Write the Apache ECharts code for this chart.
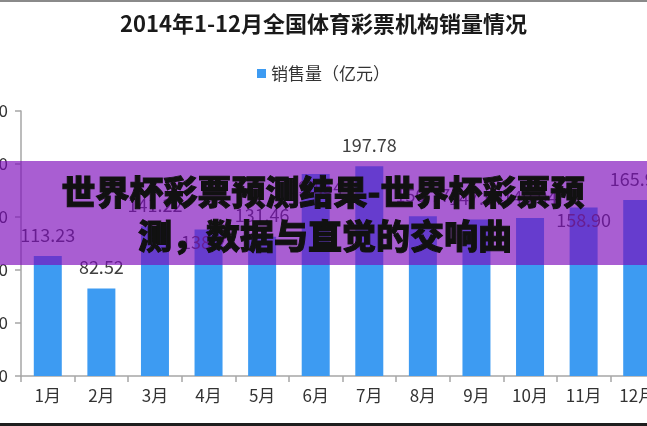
<!DOCTYPE html>
<html>
<head>
<meta charset="utf-8">
<script src="https://cdn.jsdelivr.net/npm/echarts@6/dist/echarts.min.js"></script>
<style>
html,body{margin:0;padding:0;background:#fff;}
#chart{width:647px;height:426px;}
</style>
</head>
<body>
<div id="chart"></div>
<script>
const titleText = '2014年1-12月全国体育彩票机构销量情况';
const seriesName = '销售量（亿元）';
const categories = ['1月','2月','3月','4月','5月','6月','7月','8月','9月','10月','11月','12月'];
const sales = [113.23, 82.52, 141.22, 138.27, 131.46, 190.54, 197.78, 150.77, 147.54, 149.04, 158.90, 165.93];
const insideLabelMonths = ['4月','6月','11月'];
const yMin = 0, yMax = 250, yInterval = 50;
const bannerLines = ['世界杯彩票预测结果-世界杯彩票预', '测，数据与直觉的交响曲'];

const FONT = '"Noto Sans CJK SC", "Noto Sans", sans-serif';
const chart = echarts.init(document.getElementById('chart'), null, {renderer:'canvas'});

const barData = sales.map((v, i) => {
  const item = {value: v};
  if (insideLabelMonths.indexOf(categories[i]) >= 0) {
    item.label = {position: 'insideTop', distance: 4};
  }
  return item;
});

chart.setOption({
  animation: false,
  backgroundColor: '#ffffff',
  title: {
    text: titleText,
    left: 'center',
    top: 8,
    textStyle: {fontFamily: FONT, fontSize: 22, fontWeight: 'bold', color: '#1a1a1a'}
  },
  legend: {
    data: [seriesName],
    top: 60,
    left: 'center',
    itemWidth: 9,
    itemHeight: 9,
    itemGap: 6,
    icon: 'rect',
    textStyle: {fontFamily: FONT, fontSize: 17, color: '#333'}
  },
  grid: {left: 21, top: 111, width: 643, height: 265, containLabel: false, outerBoundsMode: 'none'},
  xAxis: {
    type: 'category',
    data: categories,
    boundaryGap: true,
    axisLine: {lineStyle: {color: '#a6a6a6', width: 1.5}},
    axisTick: {show: true, length: 6, alignWithLabel: false, lineStyle: {color: '#a6a6a6', width: 1.5}},
    axisLabel: {fontFamily: FONT, fontSize: 17, color: '#333', margin: 11}
  },
  yAxis: {
    type: 'value',
    min: yMin,
    max: yMax,
    interval: yInterval,
    splitLine: {show: false},
    axisLine: {show: true, lineStyle: {color: '#a6a6a6', width: 1.5}},
    axisTick: {show: true, length: 6, lineStyle: {color: '#a6a6a6', width: 1.5}},
    axisLabel: {fontFamily: FONT, fontSize: 17, color: '#333', margin: 13}
  },
  series: [{
    name: seriesName,
    type: 'bar',
    data: barData,
    barWidth: 28,
    itemStyle: {color: '#3d9bf2'},
    label: {
      show: true,
      position: 'top',
      distance: 12,
      fontFamily: FONT,
      fontSize: 18,
      color: '#404040',
      formatter: p => Number(p.value).toFixed(2)
    }
  }],
  graphic: [
    {type: 'rect', z: 100, shape: {x: 0, y: 161, width: 647, height: 104}, style: {fill: 'rgba(125,10,186,0.66)'}},
    {type: 'text', z: 101, x: 323, y: 192, style: {text: bannerLines[0], font: '900 34px ' + FONT, fill: '#111', stroke: '#111', lineWidth: 1, textAlign: 'center', textVerticalAlign: 'middle'}},
    {type: 'text', z: 101, x: 325, y: 236, style: {text: bannerLines[1], font: '900 34px ' + FONT, fill: '#111', stroke: '#111', lineWidth: 1, textAlign: 'center', textVerticalAlign: 'middle'}},
    {type: 'rect', z: 102, shape: {x: 0, y: 0, width: 647, height: 2}, style: {fill: '#8a8a8a'}},
    {type: 'rect', z: 102, shape: {x: 0, y: 423, width: 647, height: 3}, style: {fill: '#1e1e1e'}}
  ]
});
</script>
</body>
</html>
